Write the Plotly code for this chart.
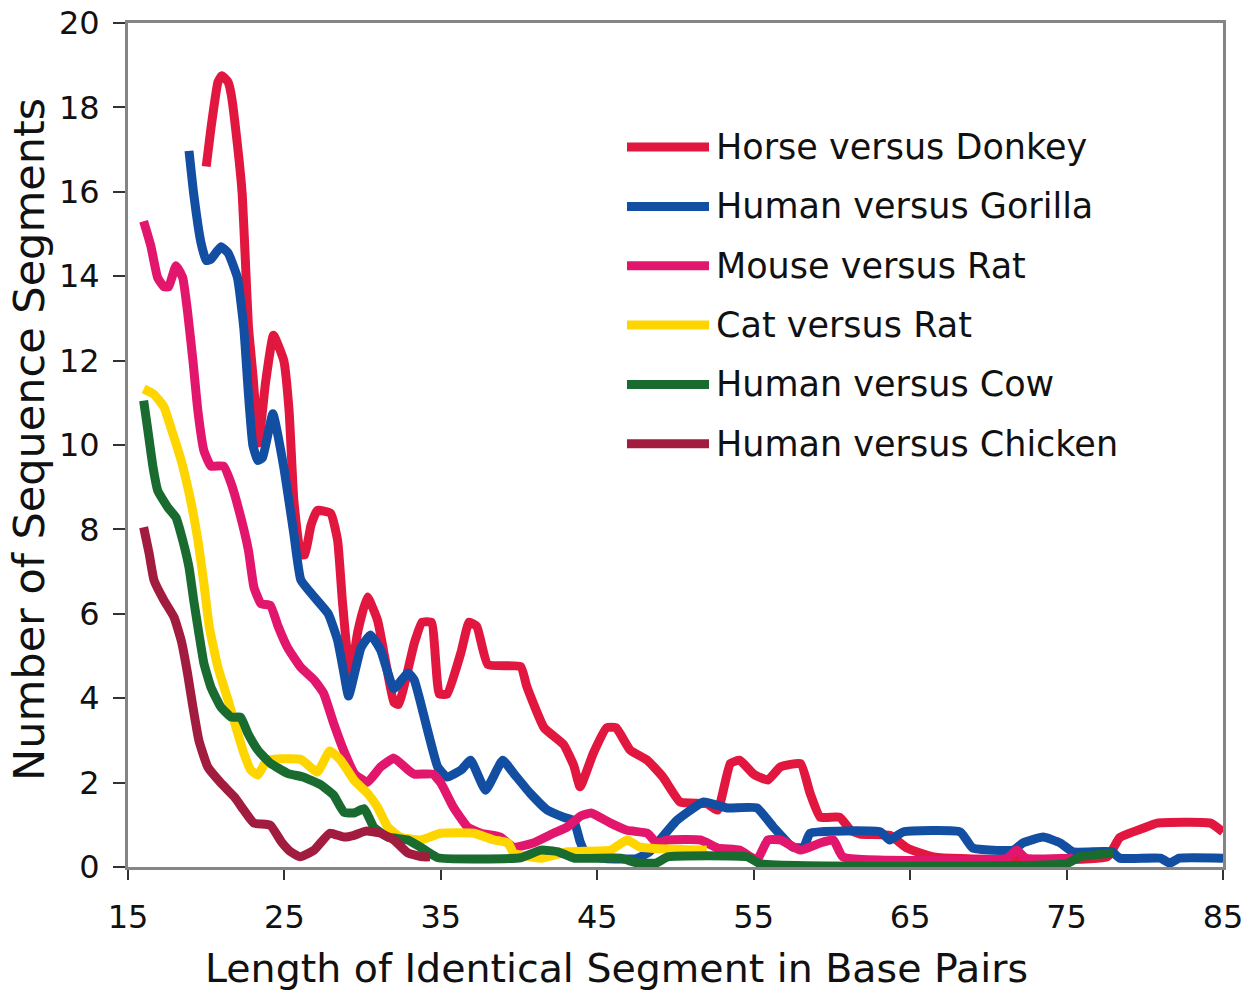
import plotly.graph_objects as go

# ---------------- data ----------------
series_names = ["Horse versus Donkey", "Human versus Gorilla", "Mouse versus Rat",
                "Cat versus Rat", "Human versus Cow", "Human versus Chicken"]
series_colors = ["#E2173F", "#124EA2", "#E3166E", "#FFD500", "#1A6B30", "#A11C3E"]

horse_x = [20.0, 20.3, 20.75, 21.0, 21.4, 21.6, 22.0, 22.3, 22.5, 22.7, 23.0, 23.2, 23.35, 23.8, 24.3,
           24.96, 25.3, 25.6, 26.05, 26.3, 26.7, 27.1, 27.96, 28.4, 28.7, 29.05, 29.2, 29.7, 30.3, 30.95,
           31.5, 32.0, 32.3, 33.3, 33.8, 34.4, 34.9, 35.4, 36.3, 36.8, 37.3, 38.0, 40.1, 40.5, 41.6,
           42.85, 43.5, 43.9, 44.75, 45.6, 46.2, 47.1, 48.2, 49.2, 50.3, 52.0, 52.7, 53.5, 54.1, 55.0,
           55.9, 56.7, 58.0, 58.6, 59.25, 60.5, 61.2, 61.8, 63.7, 64.8, 66.5, 77.6, 78.4, 79.9, 80.8,
           84.2, 85.0]
horse_y = [16.6, 17.5, 18.6, 18.75, 18.6, 18.3, 17.1, 15.95, 14.4, 12.8, 11.6, 10.6, 10.05, 11.5, 12.6,
           12.0, 10.8, 8.7, 7.4, 7.4, 8.1, 8.45, 8.38, 7.74, 6.32, 4.9, 4.5, 5.6, 6.4, 5.85,
           4.8, 3.9, 3.85, 5.3, 5.8, 5.8, 4.1, 4.1, 5.1, 5.8, 5.7, 4.8, 4.75, 4.27, 3.3,
           2.9, 2.4, 1.9, 2.7, 3.3, 3.3, 2.77, 2.53, 2.13, 1.54, 1.5, 1.35, 2.45, 2.53, 2.2,
           2.06, 2.37, 2.45, 1.75, 1.18, 1.18, 0.87, 0.78, 0.75, 0.45, 0.24, 0.24, 0.7, 0.92, 1.04,
           1.04, 0.83]

gorilla_x = [18.9, 19.2, 19.66, 20.0, 20.3, 20.94, 21.4, 22.0, 22.4, 22.7, 22.98, 23.3, 23.6, 24.26,
             24.96, 25.6, 26.05, 26.9, 27.8, 28.4, 28.8, 29.1, 29.9, 30.5, 31.15, 32.0, 32.9, 33.3,
             34.15, 34.8, 35.4, 36.3, 36.9, 37.86, 38.95, 39.65, 40.7, 41.8, 42.85, 43.5, 43.9, 44.3,
             45.5, 47.5, 48.3, 49.0, 50.1, 51.8, 53.3, 55.2, 56.25, 57.5, 58.2, 58.6, 63.1, 63.7,
             64.55, 68.2, 69.0, 71.6, 72.2, 73.5, 74.6, 75.4, 77.9, 78.4, 81.0, 81.6, 82.2, 85.0]
gorilla_y = [16.97, 15.95, 14.8, 14.37, 14.4, 14.7, 14.55, 13.96, 12.78, 11.2, 10.0, 9.63, 9.7, 10.74,
             9.47, 7.9, 6.8, 6.4, 6.0, 5.37, 4.6, 4.05, 5.2, 5.5, 5.14, 4.23, 4.6, 4.43,
             3.24, 2.37, 2.13, 2.3, 2.53, 1.82, 2.53, 2.22, 1.75, 1.35, 1.18, 1.1, 0.6, 0.3,
             0.2, 0.2, 0.35, 0.64, 1.11, 1.54, 1.4, 1.4, 0.95, 0.47, 0.47, 0.8, 0.83, 0.64,
             0.83, 0.83, 0.45, 0.4, 0.57, 0.71, 0.57, 0.36, 0.36, 0.21, 0.21, 0.09, 0.21, 0.21]

mouse_x = [16.0, 16.47, 16.9, 17.3, 17.6, 18.07, 18.5, 18.8, 19.15, 19.47, 19.85, 20.3, 21.1, 21.6,
           22.2, 22.7, 23.05, 23.5, 24.1, 24.6, 25.2, 26.05, 26.9, 27.5, 28.15, 28.8, 29.5, 30.3,
           31.15, 32.0, 32.9, 33.3, 34.5, 35.0, 35.8, 36.7, 37.55, 38.8, 39.65, 40.9, 42.2, 43.1,
           43.9, 44.6, 45.85, 46.9, 48.2, 48.8, 49.5, 51.6, 52.7, 54.1, 55.2, 55.9, 56.7, 58.0,
           59.25, 60.1, 60.7, 71.2, 71.8, 72.4, 75.4]
mouse_y = [15.3, 14.7, 13.96, 13.75, 13.75, 14.25, 13.96, 13.18, 12.0, 10.8, 9.87, 9.5, 9.5, 9.08,
           8.3, 7.5, 6.63, 6.24, 6.2, 5.7, 5.2, 4.73, 4.43, 4.12, 3.4, 2.75, 2.2, 2.01,
           2.37, 2.58, 2.3, 2.2, 2.2, 1.99, 1.42, 0.95, 0.8, 0.71, 0.47, 0.57, 0.8, 0.95,
           1.2, 1.28, 1.04, 0.87, 0.8, 0.57, 0.64, 0.64, 0.45, 0.4, 0.17, 0.64, 0.64, 0.4,
           0.57, 0.64, 0.24, 0.21, 0.4, 0.21, 0.21]

cat_x = [16.0, 16.66, 17.3, 17.75, 18.4, 19.0, 19.47, 19.85, 20.2, 20.75, 21.4, 21.9, 22.4, 22.85,
         23.3, 23.9, 26.05, 27.1, 27.9, 28.6, 29.45, 30.3, 30.95, 31.6, 32.4, 33.7, 35.0, 37.1,
         38.4, 39.3, 39.65, 41.4, 43.1, 45.85, 46.9, 47.75, 51.6, 52.0]
cat_y = [11.33, 11.2, 10.9, 10.4, 9.63, 8.69, 7.74, 6.72, 5.68, 4.73, 3.95, 3.31, 2.7, 2.3,
         2.18, 2.53, 2.55, 2.25, 2.75, 2.53, 2.06, 1.75, 1.42, 0.95, 0.71, 0.64, 0.8, 0.8,
         0.64, 0.57, 0.33, 0.21, 0.36, 0.4, 0.64, 0.47, 0.4, 0.4]

cow_x = [16.0, 16.25, 16.6, 16.9, 17.55, 18.07, 18.5, 18.9, 19.2, 19.53, 19.85, 20.3, 20.94, 21.6,
         22.2, 22.66, 23.3, 24.1, 25.2, 26.2, 27.3, 28.15, 28.8, 29.45, 30.1, 30.7, 31.6, 32.9,
         33.7, 34.8, 40.1, 41.4, 42.5, 43.5, 46.5, 47.5, 48.8, 49.5, 54.6, 55.4, 75.0, 75.85, 78.0]
cow_y = [11.05, 10.4, 9.47, 8.92, 8.52, 8.28, 7.74, 7.1, 6.32, 5.54, 4.83, 4.26, 3.79, 3.55,
         3.55, 3.17, 2.77, 2.46, 2.22, 2.13, 1.95, 1.7, 1.3, 1.28, 1.38, 0.95, 0.71, 0.64,
         0.47, 0.22, 0.22, 0.4, 0.36, 0.21, 0.21, 0.1, 0.1, 0.24, 0.24, 0.08, 0.08, 0.24, 0.33]

chicken_x = [16.0, 16.35, 16.66, 17.3, 17.94, 18.4, 18.8, 19.15, 19.53, 20.1, 20.94, 21.8, 22.4,
             23.05, 24.1, 24.8, 25.4, 26.0, 26.9, 27.9, 28.8, 29.45, 30.2, 31.15, 32.0, 32.9,
             33.9, 34.3]
chicken_y = [8.05, 7.43, 6.8, 6.32, 5.92, 5.37, 4.6, 3.79, 3.0, 2.37, 1.99, 1.66, 1.35,
             1.04, 0.99, 0.6, 0.36, 0.24, 0.4, 0.8, 0.71, 0.75, 0.85, 0.8, 0.64, 0.33,
             0.24, 0.24]

x_tick_vals = [15, 25, 35, 45, 55, 65, 75, 85]
y_tick_vals = [0, 2, 4, 6, 8, 10, 12, 14, 16, 18, 20]

x_title = "Length of Identical Segment in Base Pairs"
y_title = "Number of Sequence Segments"

series_x = [horse_x, gorilla_x, mouse_x, cat_x, cow_x, chicken_x]
series_y = [horse_y, gorilla_y, mouse_y, cat_y, cow_y, chicken_y]

# ---------------- figure ----------------
FONT = "DejaVu Sans, Verdana, sans-serif"
fig = go.Figure()
for name, color, xs, ys in zip(series_names, series_colors, series_x, series_y):
    fig.add_trace(go.Scatter(x=xs, y=ys, mode="lines", name=name,
                             line=dict(color=color, width=9, shape="spline", smoothing=0.4),
                             showlegend=False))

# custom legend (long line samples as in the reference)
leg_y0, leg_dy = 0.853, 0.0703
for i, (name, color) in enumerate(zip(series_names, series_colors)):
    yy = leg_y0 - i * leg_dy
    fig.add_shape(type="line", xref="paper", yref="paper", x0=0.4557, x1=0.5306, y0=yy, y1=yy,
                  line=dict(color=color, width=9))
    fig.add_annotation(xref="paper", yref="paper", x=0.535, y=yy, text=name, showarrow=False,
                       xanchor="left", yanchor="middle", font=dict(family=FONT, size=35, color="#111"))

fig.add_annotation(xref="paper", yref="paper", x=0.4457, y=-0.1197, text=x_title, showarrow=False,
                   xanchor="center", yanchor="middle", font=dict(family=FONT, size=39.5, color="#111"))
fig.add_annotation(xref="paper", yref="paper", x=-0.0904, y=0.506, text=y_title, showarrow=False,
                   textangle=-90, xanchor="center", yanchor="middle",
                   font=dict(family=FONT, size=43, color="#111"))

fig.update_layout(
    width=1252, height=995,
    margin=dict(l=128, r=29, t=23, b=128, autoexpand=False),
    paper_bgcolor="white", plot_bgcolor="white",
    showlegend=False,
)
fig.update_xaxes(range=[15, 85], tickvals=x_tick_vals, ticks="outside", ticklen=10, tickwidth=2,
                 tickcolor="#333", showline=True, linecolor="#858585", linewidth=3, mirror=True,
                 showgrid=False, zeroline=False, ticklabelstandoff=10, automargin=False,
                 ticklabeloverflow="allow",
                 tickfont=dict(family=FONT, size=32, color="#111"))
fig.update_yaxes(range=[0, 20], tickvals=y_tick_vals, ticks="outside", ticklen=12, tickwidth=2,
                 tickcolor="#333", showline=True, linecolor="#858585", linewidth=3, mirror=True,
                 showgrid=False, zeroline=False, ticklabelstandoff=7, automargin=False,
                 ticklabeloverflow="allow",
                 tickfont=dict(family=FONT, size=32, color="#111"))

# remove the browser's default 8px page margin so the figure fills the window exactly
fig.write_html("out.html", config={"displayModeBar": False},
               post_script="document.body.style.margin='0';document.body.style.overflow='hidden';")
